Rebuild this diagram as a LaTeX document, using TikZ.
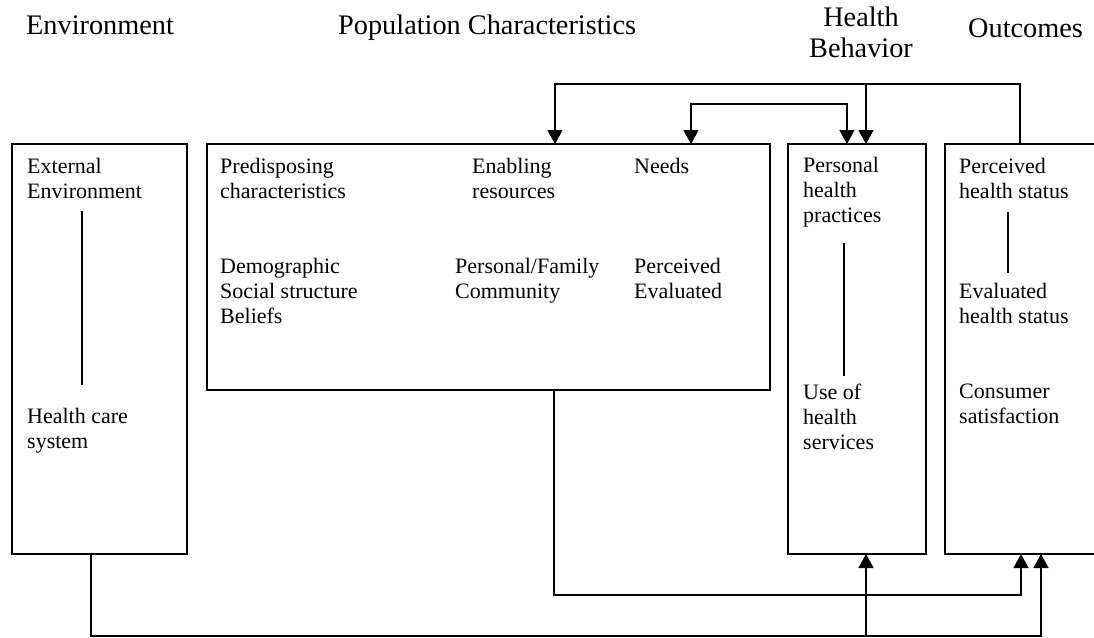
\documentclass[tikz,border=0pt]{standalone}
\usepackage{fontspec}
\setmainfont{Liberation Serif}
\usetikzlibrary{arrows.meta}
\newcommand\mylines[1]{\begin{tabular}[t]{@{}l@{}}#1\end{tabular}}
\tikzset{
  box/.style={draw, line width=1.5pt, inner sep=0pt, outer sep=0pt, anchor=north west},
  txt/.style={anchor=base west, inner sep=0pt, font=\fontsize{22}{25}\selectfont},
  head/.style={anchor=base west, inner sep=0pt, font=\fontsize{28.3}{31}\selectfont},
  conn/.style={line width=1.5pt},
  arr/.style={conn, -{Triangle[length=14pt,width=15pt]}},
  arrboth/.style={conn, {Triangle[length=14pt,width=15pt]}-{Triangle[length=14pt,width=15pt]}}
}
\begin{document}
\begin{tikzpicture}[x=1pt,y=-1pt]
\clip (0,0) rectangle (1094,637);
\fill[white] (0,0) rectangle (1094,637);

% headers
\node[head] (hEnv) at (26,34) {Environment};
\node[head] (hPop) at (338,34) {Population Characteristics};
\node[head, anchor=base] (hBeh) at (861,27) {\begin{tabular}[t]{@{}c@{}}Health\\Behavior\end{tabular}};
\node[head] (hOut) at (968,37) {Outcomes};

% boxes
\node[box, minimum width=175pt, minimum height=410pt] (env) at (12,144) {};
\node[box, minimum width=563pt, minimum height=246pt] (pop) at (207,144) {};
\node[box, minimum width=138pt, minimum height=410pt] (hb) at (788,144) {};
\node[box, minimum width=170pt, minimum height=410pt] (outc) at (945,144) {};

% environment texts
\node[txt] (ext) at (27,173) {\mylines{External\\Environment}};
\node[txt] (hcs) at (27,423) {\mylines{Health care\\system}};
\coordinate (e1) at (82,211);
\coordinate (e2) at (82,385);
\draw[conn] (e1) -- (e2);

% population texts
\node[txt] (pred) at (220,173) {\mylines{Predisposing\\characteristics}};
\node[txt] (demo) at (220,273) {\mylines{Demographic\\Social structure\\Beliefs}};
\node[txt] (enab) at (472,173) {\mylines{Enabling\\resources}};
\node[txt] (pfam) at (455,273) {\mylines{Personal/Family\\Community}};
\node[txt] (need) at (634,173) {Needs};
\node[txt] (peev) at (634,273) {\mylines{Perceived\\Evaluated}};

% health behavior texts
\node[txt] (php) at (803,172) {\mylines{Personal\\health\\practices}};
\node[txt] (uhs) at (803,399) {\mylines{Use of\\health\\services}};
\coordinate (h1) at (844,243);
\coordinate (h2) at (844,376);
\draw[conn] (h1) -- (h2);

% outcomes texts
\node[txt] (phs) at (959,173) {\mylines{Perceived\\health status}};
\node[txt] (ehs) at (959,298) {\mylines{Evaluated\\health status}};
\node[txt] (cs) at (959,398) {\mylines{Consumer\\satisfaction}};
\coordinate (o1) at (1008,212);
\coordinate (o2) at (1008,273);
\draw[conn] (o1) -- (o2);

% top feedback connectors
\coordinate (t1) at (1020,84);
\coordinate (t2) at (555,84);
\coordinate (t3) at (866,84);
\draw[arr] (outc.north -| t1) -- (t1) -- (t2) -- (pop.north -| t2);
\draw[arr] (t3) -- (hb.north -| t3);
\coordinate (u1) at (691,104);
\coordinate (u2) at (847,104);
\draw[arrboth] (pop.north -| u1) -- (u1) -- (u2) -- (hb.north -| u2);

% bottom connectors
\coordinate (b1) at (91,636);
\coordinate (b2) at (1041,636);
\coordinate (b3) at (866,636);
\draw[arr] (env.south -| b1) -- (b1) -- (b2) -- (outc.south -| b2);
\draw[arr] (b3) -- (hb.south -| b3);
\coordinate (p1) at (554,595);
\coordinate (p2) at (1021,595);
\draw[arr] (pop.south -| p1) -- (p1) -- (p2) -- (outc.south -| p2);
\end{tikzpicture}
\end{document}
